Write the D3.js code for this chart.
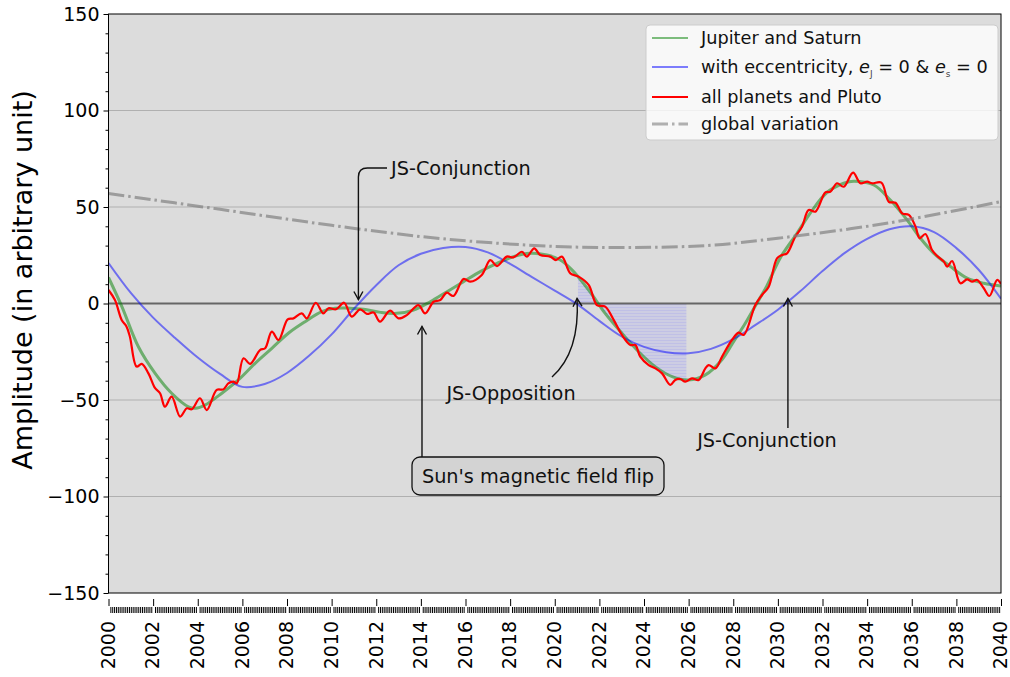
<!DOCTYPE html>
<html><head><meta charset="utf-8">
<script src="https://cdn.jsdelivr.net/npm/d3@7"></script>
<style>body{margin:0;background:#fff}svg{display:block;font-family:"DejaVu Sans",sans-serif}</style>
</head><body><svg id="c" width="1010" height="677"></svg>
<script>
// ---- data ----
const greenYears = [2000,2000.6,2001.34,2002.09,2002.83,2003.58,2003.9,2004.33,2005.08,2005.82,2006.57,2007.32,2008.06,2008.81,2009.56,2010.16,2010.8,2011.43,2012.2,2012.92,2013.67,2014.42,2015.17,2015.91,2016.66,2017.41,2018.15,2018.9,2019.65,2020.25,2020.77,2021.52,2022.26,2023.01,2023.76,2024.5,2025.26,2026,2026.75,2027.5,2028,2028.5,2029,2029.5,2030.1,2030.86,2031.46,2032.2,2032.95,2033.4,2034.3,2035.04,2035.79,2036.39,2036.99,2037.74,2038.48,2039.23,2040];
const greenValues = [13.5,-1.6,-22.4,-36.2,-46.5,-53.5,-54.3,-52.6,-46.5,-39.6,-31,-23.2,-15.4,-9.4,-4.2,-2.5,-2.4,-3,-4.6,-5.1,-3.4,0.9,6.1,11.3,16.5,20.8,24.3,26,25.1,22.5,17.4,7,-5.1,-15.4,-25,-32.7,-37.9,-39.6,-37,-29,-20,-11,-1,9,23.5,36.4,47,57.5,62.3,63.4,61.4,53.6,43.3,33.8,26,19.1,13.1,10.5,9.1];

const blueYears = d3.range(2000, 2041, 1);
const blueValues = [21,5.5,-7.3,-18,-28,-36.5,-43.2,-41.7,-36,-27,-16,-2.7,9.5,19.8,25.8,28.8,29.3,26.5,20.5,13.5,6.7,-0.3,-9,-17.1,-22.5,-25.3,-25.8,-23.5,-18.5,-11.1,-3.2,6.3,16.8,26.2,33.5,38.5,40,37,28.7,17.5,2.5];

const redYears = [2000,2000.29,2000.59,2000.81,2000.96,2001.26,2001.49,2001.79,2002.09,2002.31,2002.53,2002.83,2003.21,2003.51,2003.73,2004.1,2004.4,2004.85,2005.15,2005.37,2005.6,2005.75,2006.05,2006.35,2006.79,2007.02,2007.32,2007.62,2008.03,2008.29,2008.66,2008.89,2009.29,2009.63,2009.86,2010.2,2010.56,2010.9,2011.28,2011.58,2011.88,2012.17,2012.62,2013,2013.37,2013.89,2014.19,2014.57,2014.87,2015.16,2015.46,2015.91,2016.21,2016.73,2017.11,2017.41,2017.85,2018.15,2018.53,2018.75,2019.08,2019.35,2019.8,2020.05,2020.32,2020.7,2021.07,2021.52,2021.89,2022.26,2022.64,2023.01,2023.39,2023.61,2023.83,2024.21,2024.51,2024.81,2025.18,2025.4,2025.63,2025.85,2026.15,2026.45,2026.75,2026.9,2027.2,2027.5,2027.94,2028.24,2028.47,2028.99,2029.29,2029.59,2029.96,2030.19,2030.41,2030.78,2031.08,2031.38,2031.68,2032.13,2032.35,2032.65,2032.95,2033.37,2033.7,2034,2034.22,2034.64,2034.97,2035.27,2035.57,2035.87,2036.17,2036.35,2036.61,2036.91,2037.14,2037.44,2037.59,2037.81,2038.18,2038.48,2038.71,2038.93,2039.23,2039.48,2039.83,2040];
const redValues = [7,1.8,-8.5,-12,-17.2,-32.7,-31.3,-36.2,-43.9,-46.5,-53.5,-48.3,-58.6,-54.3,-54.8,-49.1,-55.2,-44.8,-44.5,-41.4,-40.5,-41.4,-28.4,-31.3,-24.1,-23.2,-14.6,-18.9,-8.2,-7.7,-5.1,-7.7,0.4,-5.1,-2.5,-3,0.4,-6.8,-3,-5.4,-4.7,-9.4,-3.7,-7.7,-6,-0.8,-5.1,0.9,1.8,5.6,3.9,12.7,11.3,14.8,22.5,19.4,24.3,23.9,26.8,24.3,28.6,25.1,24.3,22.5,24.3,15.6,13.9,9.6,-0.8,-1.6,-8.5,-16.3,-21.5,-21.5,-27.5,-31.9,-33.6,-36.2,-42.2,-39.6,-39.1,-40.5,-38.8,-39.6,-33.6,-31.9,-33.6,-27.5,-18.9,-15.1,-16.3,-0.8,4.4,8.7,23.4,25.1,26,34.6,39.8,48.4,47.6,57.6,57.9,62.3,60.5,67.8,62.3,63.1,62.3,62.6,52.7,52.2,46.7,45.9,39.8,33.8,36,27.7,24.6,21.7,19.1,22,10.5,12.5,11.3,12.2,7.9,3.9,12.2,10.1];

const grayYears = [2000,2005,2010,2015,2020,2023.5,2027,2030,2035,2040];
const grayValues = [57,48.8,40.5,33.5,29.6,29,30.2,33.8,41.8,52.8];

const shadeStart = 2021.04, shadeEnd = 2025.9;
const yTicks = [-150,-100,-50,0,50,100,150];
const xTickYears = d3.range(2000, 2041, 2);
const legendLabels = ["Jupiter and Saturn","with eccentricity","all planets and Pluto","global variation"];

// ---- drawing ----
const svg = d3.select("#c");
const L = 108.5, R = 1001, T = 14, B = 593;
const x = d3.scaleLinear().domain([2000,2040]).range([L,R]);
const y = d3.scaleLinear().domain([-150,150]).range([B,T]);

svg.append("rect").attr("width",1010).attr("height",677).attr("fill","#fff");
svg.append("rect").attr("x",L).attr("y",T).attr("width",R-L).attr("height",B-T).attr("fill","#dcdcdc");

const defs = svg.append("defs");
const pat = defs.append("pattern").attr("id","hatch").attr("patternUnits","userSpaceOnUse").attr("width",8).attr("height",3);
pat.append("rect").attr("width",8).attr("height",3).attr("fill","#cdcde3");
pat.append("rect").attr("y",1).attr("width",8).attr("height",1).attr("fill","#c0c0e6");
defs.append("clipPath").attr("id","shadeclip").append("rect")
  .attr("x",x(shadeStart)).attr("y",T).attr("width",x(shadeEnd)-x(shadeStart)).attr("height",B-T);
defs.append("clipPath").attr("id","plotclip").append("rect")
  .attr("x",L).attr("y",T).attr("width",R-L).attr("height",B-T);
const mk = defs.append("marker").attr("id","arr").attr("viewBox","-10 -6 12 12").attr("refX",0).attr("refY",0)
  .attr("markerWidth",12).attr("markerHeight",12).attr("markerUnits","userSpaceOnUse").attr("orient","auto");
mk.append("path").attr("d","M-8,-4.5L0,0L-8,4.5").attr("fill","none").attr("stroke","#111").attr("stroke-width",1.4);

// grid
svg.append("g").selectAll("line").data([-100,-50,50,100]).join("line")
  .attr("x1",L).attr("x2",R).attr("y1",d=>y(d)).attr("y2",d=>y(d))
  .attr("stroke","#b0b0b0").attr("stroke-width",1);

const green = greenYears.map((t,i)=>[t,greenValues[i]]);
const blue = blueYears.map((t,i)=>[t,blueValues[i]]);
const red = redYears.map((t,i)=>[t,redValues[i]]);
const gray = grayYears.map((t,i)=>[t,grayValues[i]]);

const curve = d3.curveCatmullRom.alpha(0.5);
const line = d3.line().x(d=>x(d[0])).y(d=>y(d[1])).curve(curve);
const area = d3.area().x(d=>x(d[0])).y0(y(0)).y1(d=>y(d[1])).curve(curve);

svg.append("path").datum(green).attr("d",area).attr("fill","url(#hatch)").attr("clip-path","url(#shadeclip)");

// zero line
svg.append("line").attr("x1",L).attr("x2",R).attr("y1",y(0)).attr("y2",y(0)).attr("stroke","#666").attr("stroke-width",2);

const g = svg.append("g").attr("clip-path","url(#plotclip)").attr("fill","none");
g.append("path").datum(green).attr("d",line).attr("stroke","#008000").attr("stroke-opacity",0.5).attr("stroke-width",3);
g.append("path").datum(blue).attr("d",line).attr("stroke","#0000ff").attr("stroke-opacity",0.5).attr("stroke-width",2);
g.append("path").datum(red).attr("d",line).attr("stroke","#ff0000").attr("stroke-width",2.2);
g.append("path").datum(gray).attr("d",line).attr("stroke","#808080").attr("stroke-opacity",0.7).attr("stroke-width",3)
  .attr("stroke-dasharray","16,4,2.5,4");

// frame
svg.append("rect").attr("x",L).attr("y",T).attr("width",R-L).attr("height",B-T).attr("fill","none").attr("stroke","#000").attr("stroke-width",1);

// axes
const yAxis = d3.axisLeft(y).tickValues(yTicks).tickSize(5).tickPadding(4).tickFormat(d=>d<0?"\u2212"+(-d):d);
const ya = svg.append("g").attr("transform",`translate(${L},0)`).call(yAxis);
ya.select(".domain").remove();
ya.selectAll("text").attr("font-size",19).attr("font-family","DejaVu Sans").attr("fill","#000");
const yMinor = d3.axisLeft(y).tickValues(d3.range(-150,151,10).filter(v=>v%50!==0)).tickSize(3).tickFormat("");
const ym = svg.append("g").attr("transform",`translate(${L},0)`).call(yMinor); ym.select(".domain").remove();

const xAxis = d3.axisBottom(x).tickValues(xTickYears).tickSize(12).tickPadding(6).tickFormat(d3.format("d"));
const xa = svg.append("g").attr("transform",`translate(0,${B})`).call(xAxis);
xa.select(".domain").remove();
xa.selectAll(".tick line").attr("y1",6).attr("y2",13);
xa.selectAll("text").attr("font-size",19).attr("font-family","DejaVu Sans").attr("fill","#000")
  .attr("transform","rotate(-90)").attr("text-anchor","end").attr("dy","0.36em").attr("x",-28).attr("y",-1);
const months = d3.range(0,40*12+1).map(i=>2000+i/12).filter((v,i)=>i%24!==0);
const xMinor = d3.axisBottom(x).tickValues(months).tickSize(20).tickFormat("");
const xm = svg.append("g").attr("transform",`translate(0,${B})`).call(xMinor); xm.select(".domain").remove();
xm.selectAll(".tick line").attr("y1",14).attr("y2",20);

// y label
svg.append("text").attr("transform","translate(32,280) rotate(-90)").attr("text-anchor","middle")
  .attr("font-size",27).attr("fill","#000").text("Amplitude (in arbitrary unit)");

// legend
const lg = svg.append("g");
lg.append("rect").attr("x",646).attr("y",25).attr("width",352).attr("height",115).attr("rx",4)
  .attr("fill","#fff").attr("fill-opacity",0.8).attr("stroke","#ccc");
const rows = [38,67,97,124];
const sty = [
  {c:"#008000",o:0.5,w:2,dash:null},
  {c:"#0000ff",o:0.5,w:2,dash:null},
  {c:"#ff0000",o:1,w:2.2,dash:null},
  {c:"#808080",o:0.6,w:3,dash:"16,4,2.5,4"}];
rows.forEach((ry,i)=>{
  lg.append("line").attr("x1",652).attr("x2",688).attr("y1",ry).attr("y2",ry)
    .attr("stroke",sty[i].c).attr("stroke-opacity",sty[i].o).attr("stroke-width",sty[i].w)
    .attr("stroke-dasharray",sty[i].dash);
  const t = lg.append("text").attr("x",701).attr("y",ry).attr("dy","0.36em").attr("font-size",17.7).attr("fill","#111");
  if(i===1){
    t.append("tspan").text(legendLabels[1]+", ");
    t.append("tspan").attr("font-style","italic").text("e");
    t.append("tspan").attr("font-size",9).attr("dy",4).attr("fill","#444").text("J");
    t.append("tspan").attr("dy",-4).text(" = 0 & ");
    t.append("tspan").attr("font-style","italic").text("e");
    t.append("tspan").attr("font-size",9).attr("dy",4).attr("fill","#444").text("s");
    t.append("tspan").attr("dy",-4).text(" = 0");
  } else t.text(legendLabels[i]);
});

// annotations
const ann = svg.append("g").attr("fill","none").attr("stroke","#111").attr("stroke-width",1.4);
const fs = 19.3;
// upper JS-Conjunction
const cx1 = x(2011.2);
ann.append("path").attr("d",`M387,168 L${cx1+9},168 Q${cx1},168 ${cx1},177 L${cx1},${y(0)-4}`).attr("marker-end","url(#arr)");
svg.append("text").attr("x",391).attr("y",168).attr("dy","0.36em").attr("font-size",fs).attr("fill","#111").text("JS-Conjunction");
// JS-Opposition
const ox = x(2021.0);
ann.append("path").attr("d",`M552,377 Q${ox+3},352 ${ox},${y(0)-5}`).attr("marker-end","url(#arr)");
svg.append("text").attr("x",511).attr("y",393).attr("dy","0.36em").attr("text-anchor","middle").attr("font-size",fs).attr("fill","#111").text("JS-Opposition");
// lower JS-Conjunction
const cx2 = x(2030.45);
ann.append("path").attr("d",`M${cx2},428 L${cx2},${y(0)-5}`).attr("marker-end","url(#arr)");
svg.append("text").attr("x",767).attr("y",440).attr("dy","0.36em").attr("text-anchor","middle").attr("font-size",fs).attr("fill","#111").text("JS-Conjunction");
// Sun's magnetic field flip
const fx = x(2014.05);
ann.append("path").attr("d",`M${fx},457 L${fx},${y(0)+23}`).attr("marker-end","url(#arr)");
svg.append("rect").attr("x",412).attr("y",457).attr("width",252).attr("height",38).attr("rx",8)
  .attr("fill","#d3d3d3").attr("stroke","#111").attr("stroke-width",1.3);
svg.append("text").attr("x",538).attr("y",476).attr("dy","0.36em").attr("text-anchor","middle").attr("font-size",fs).attr("fill","#111").text("Sun's magnetic field flip");
</script></body></html>
